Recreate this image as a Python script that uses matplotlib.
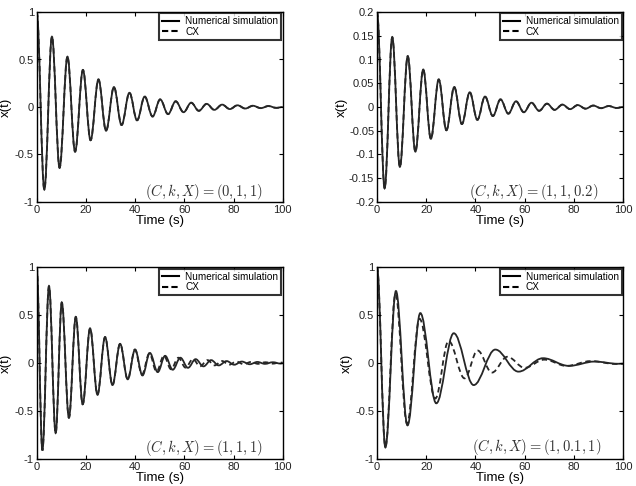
import matplotlib
matplotlib.use("Agg")
import matplotlib.pyplot as plt
from matplotlib.path import Path
from matplotlib.patches import PathPatch
from matplotlib.lines import Line2D

plt.rcParams['font.family'] = ['Liberation Sans', 'DejaVu Sans']
plt.rcParams['mathtext.fontset'] = 'cm'
plt.rcParams['axes.unicode_minus'] = False

# ---------------- data (extrema) ----------------
# Panel 1: (C,k,X) = (0,1,1)
p1_t = [0, 3.1, 6.2, 9.3, 12.5, 15.6, 18.8, 21.9, 25.1, 28.2, 31.4, 34.5, 37.7,
        40.8, 43.9, 47.1, 50.2, 53.4, 56.5, 59.7, 62.8, 65.9, 69.1, 72.2, 75.4,
        78.5, 81.6, 84.8, 87.9, 91.1, 94.2, 97.4, 100]
p1_num = [1.0, -0.87, 0.74, -0.64, 0.53, -0.47, 0.39, -0.35, 0.29, -0.25, 0.21,
          -0.19, 0.15, -0.14, 0.11, -0.10, 0.08, -0.075, 0.06, -0.055, 0.045,
          -0.04, 0.033, -0.03, 0.025, -0.022, 0.018, -0.016, 0.013, -0.012,
          0.01, -0.009, 0.0]
p1_cx = p1_num

# Panel 2: (C,k,X) = (1,1,0.2)
p2_t = p1_t
p2_num = [0.2, -0.171, 0.147, -0.126, 0.107, -0.094, 0.079, -0.067, 0.058,
          -0.049, 0.042, -0.036, 0.031, -0.027, 0.022, -0.019, 0.016, -0.014,
          0.012, -0.011, 0.009, -0.008, 0.007, -0.006, 0.005, -0.0045, 0.004,
          -0.0035, 0.003, -0.0025, 0.002, -0.002, 0.0]
p2_cx = p2_num

# Panel 3: (C,k,X) = (1,1,1)
p3_t = [0, 2.3, 5.0, 7.7, 10.2, 13.1, 15.9, 18.7, 21.7, 24.7, 27.8, 30.8, 33.9,
        37.0, 40.0, 43.0, 46.0, 49.2, 52.2, 55.3, 58.4, 61.5, 64.6, 67.8, 70.9,
        74.0, 77.2, 80.3, 83.4, 86.6, 89.7, 92.8, 96.0, 99.1, 100]
p3_num = [1.0, -0.91, 0.80, -0.73, 0.63, -0.57, 0.48, -0.43, 0.36, -0.33, 0.27,
          -0.23, 0.20, -0.17, 0.14, -0.13, 0.105, -0.095, 0.075, -0.07, 0.055,
          -0.05, 0.04, -0.035, 0.03, -0.025, 0.02, -0.018, 0.015, -0.013,
          0.011, -0.009, 0.008, -0.006, -0.003]
p3_cx_t = [0, 2.3, 5.0, 7.7, 10.2, 13.1, 15.9, 18.7, 21.7, 24.7, 27.8, 30.8,
           33.9, 37.0, 39.9, 42.8, 45.8, 48.7, 51.7, 54.6, 57.6, 60.5, 63.5,
           66.4, 69.4, 72.3, 75.3, 78.2, 81.2, 84.1, 87.1, 90.0, 93.0, 95.9,
           98.9, 100]
p3_cx = [1.0, -0.91, 0.80, -0.73, 0.63, -0.57, 0.48, -0.43, 0.36, -0.33, 0.27,
         -0.23, 0.20, -0.17, 0.14, -0.12, 0.10, -0.09, 0.075, -0.065, 0.055,
         -0.048, 0.04, -0.034, 0.03, -0.025, 0.021, -0.018, 0.015, -0.013,
         0.011, -0.009, 0.008, -0.007, 0.006, 0.003]

# Panel 4: (C,k,X) = (1,0.1,1)
p4_t = [0, 3.4, 7.7, 12.4, 17.6, 24.1, 31.2, 39.3, 48.1, 57.5, 67.5, 78.0,
        88.5, 98.0, 100]
p4_num = [1.0, -0.88, 0.75, -0.65, 0.52, -0.42, 0.31, -0.23, 0.14, -0.09,
          0.05, -0.03, 0.015, -0.008, -0.007]
p4_cx_t = [0, 3.4, 7.5, 12.2, 17.3, 23.7, 29.1, 35.6, 40.9, 46.7, 53.0, 60.0,
           68.0, 77.0, 87.0, 97.0, 100]
p4_cx = [1.0, -0.87, 0.72, -0.63, 0.46, -0.37, 0.23, -0.16, 0.13, -0.10,
         0.065, -0.05, 0.035, -0.03, 0.02, -0.01, -0.008]

labels = [r'$(C,k,X)=(\mathbf{0},\mathbf{1},\mathbf{1})$',
          r'$(C,k,X)=(\mathbf{1},\mathbf{1},\mathbf{0.2})$',
          r'$(C,k,X)=(\mathbf{1},\mathbf{1},\mathbf{1})$',
          r'$(C,k,X)=(\mathbf{1},\mathbf{0.1},\mathbf{1})$']

xticks = [0, 20, 40, 60, 80, 100]
yticks_big = [-1, -0.5, 0, 0.5, 1]
yticklabels_big = ['-1', '-0.5', '0', '0.5', '1']
yticks_small = [-0.2, -0.15, -0.1, -0.05, 0, 0.05, 0.1, 0.15, 0.2]
yticklabels_small = ['-0.2', '-0.15', '-0.1', '-0.05', '0', '0.05', '0.1', '0.15', '0.2']


def smooth_path(t, v):
    """Cubic Bezier through extrema with horizontal tangents."""
    a = 0.363
    verts = [(t[0], v[0])]
    codes = [Path.MOVETO]
    for i in range(len(t) - 1):
        d = t[i + 1] - t[i]
        verts += [(t[i] + a * d, v[i]), (t[i + 1] - a * d, v[i + 1]), (t[i + 1], v[i + 1])]
        codes += [Path.CURVE4] * 3
    return Path(verts, codes)


fig = plt.figure(figsize=(6.36, 4.86), dpi=100)
positions = [
    [36.7 / 636, 1 - 202 / 486, 246 / 636, 190 / 486],
    [377 / 636, 1 - 202 / 486, 246 / 636, 190 / 486],
    [36.7 / 636, 1 - 459 / 486, 246 / 636, 192 / 486],
    [377 / 636, 1 - 459 / 486, 246 / 636, 192 / 486],
]
panels = [
    (p1_t, p1_num, p1_t, p1_cx, 1.0),
    (p2_t, p2_num, p2_t, p2_cx, 0.2),
    (p3_t, p3_num, p3_cx_t, p3_cx, 1.0),
    (p4_t, p4_num, p4_cx_t, p4_cx, 1.0),
]
text_pos = [(92, -0.90), (90, -0.18), (92, -0.885), (91, -0.88)]
ylab_x = [-0.125, -0.142, -0.125, -0.122]

line_col = '#262626'
for i, (pos, (tn, vn, tc, vc, lim)) in enumerate(zip(positions, panels)):
    ax = fig.add_axes(pos)
    ax.add_patch(PathPatch(smooth_path(tn, vn), fill=False, edgecolor=line_col,
                           lw=1.3, linestyle='-'))
    ax.add_patch(PathPatch(smooth_path(tc, vc), fill=False, edgecolor=line_col,
                           lw=1.3, linestyle=(0, (3, 2))))
    ax.set_xlim(0, 100)
    ax.set_ylim(-lim, lim)
    ax.set_xticks(xticks)
    ax.set_xticklabels([str(x) for x in xticks])
    if lim == 1.0:
        ax.set_yticks(yticks_big)
        ax.set_yticklabels(yticklabels_big)
    else:
        ax.set_yticks(yticks_small)
        ax.set_yticklabels(yticklabels_small)
    ax.tick_params(direction='in', top=True, right=True, length=3, width=0.8,
                   labelsize=8, pad=2, labelcolor='#222222')
    for s in ax.spines.values():
        s.set_linewidth(1.0)
    ax.set_xlabel('Time (s)', fontsize=9.5, va='center')
    ax.xaxis.set_label_coords(0.5, -19 / pos[3] / 486)
    ax.set_ylabel('x(t)', fontsize=9.5, va='center')
    ax.yaxis.set_label_coords(ylab_x[i], 0.5)
    handles = [Line2D([], [], color='black', lw=1.5, linestyle='-'),
               Line2D([], [], color='black', lw=1.5, linestyle=(0, (3, 1.5)))]
    leg = ax.legend(handles, ['Numerical simulation', 'CX'], loc='upper right',
                    fontsize=7.2, frameon=True, fancybox=False, borderaxespad=0.15,
                    handlelength=1.7, handletextpad=0.6, borderpad=0.3,
                    labelspacing=0.05)
    leg.get_frame().set_edgecolor('black')
    leg.get_frame().set_linewidth(1.5)
    tx, ty = text_pos[i]
    ax.text(tx, ty, labels[i], ha='right', va='center', fontsize=10.5,
            color='#333333')

fig.savefig('out.png', dpi=100)
